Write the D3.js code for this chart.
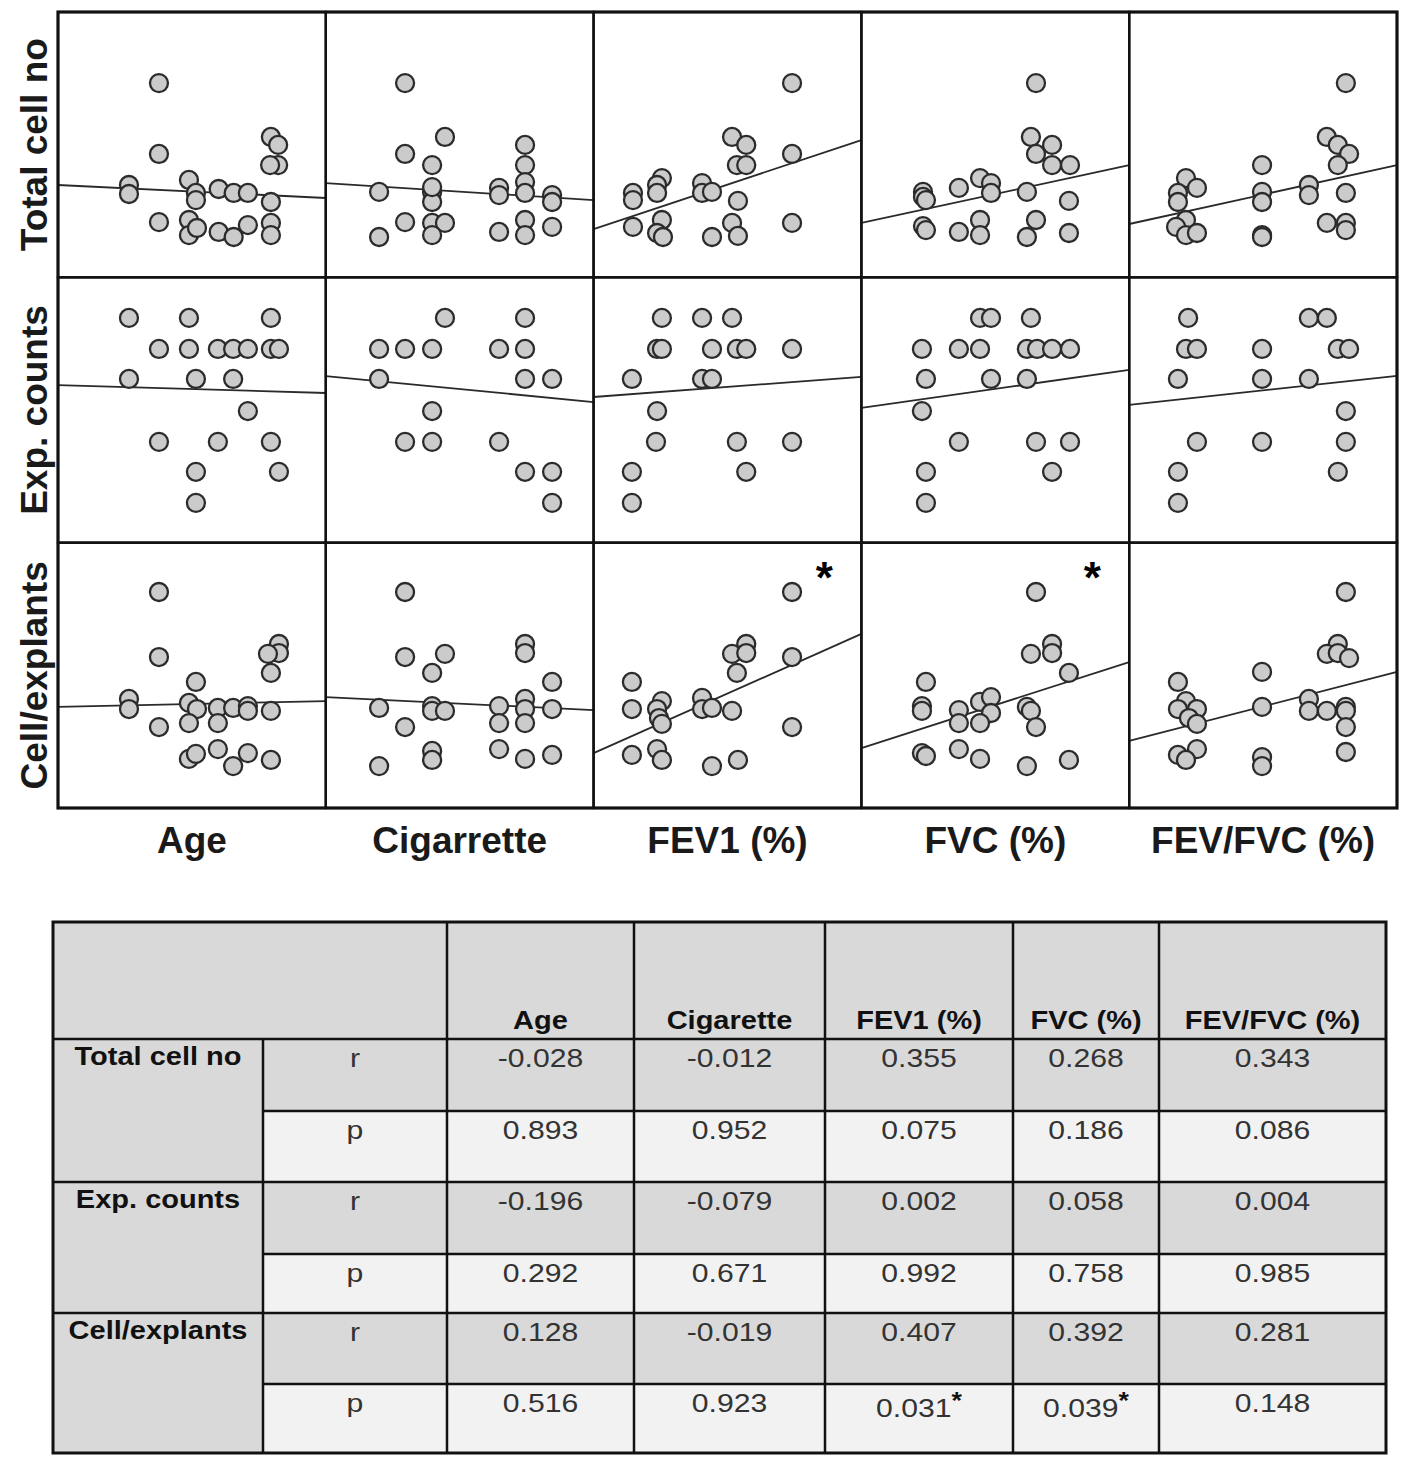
<!DOCTYPE html>
<html>
<head>
<meta charset="utf-8">
<script src="https://cdn.jsdelivr.net/npm/d3@7"></script>
<style>
  body { margin: 0; background: #fff; }
  svg { display: block; font-family: Arial, "Liberation Sans", Helvetica, sans-serif; }
</style>
</head>
<body>
<script>
// ------------------------------- Data --------------------------------------
// rows = outcome variables, columns = clinical variables
var rowVars = ["Total cell no", "Exp. counts", "Cell/explants"];
var colVars = ["Age", "Cigarrette", "FEV1 (%)", "FVC (%)", "FEV/FVC (%)"];
var tableCols = ["Age", "Cigarette", "FEV1 (%)", "FVC (%)", "FEV/FVC (%)"];

// points as [x, y], both on a relative 0-100 scale (no units shown on the figure)
var totalAge = [[37.7,73.2],[37.7,46.5],[26.5,34.8],[26.5,31.4],[37.7,20.8],[48.9,36.7],[51.5,31.8],[51.5,29.1],[48.9,21.6],[48.9,15.9],[51.9,18.6],[60.0,33.3],[60.0,17.1],[65.6,31.8],[65.6,15.2],[70.9,31.8],[70.9,19.7],[79.5,52.9],[82.2,49.9],[82.2,42.3],[79.2,42.3],[79.5,28.4],[79.5,20.5],[79.5,15.9]];
var totalCig = [[29.6,73.2],[29.6,46.5],[44.5,52.9],[39.7,42.3],[19.9,32.2],[39.7,32.2],[39.7,28.4],[39.7,34.0],[29.6,20.8],[39.7,20.5],[44.5,20.5],[19.9,15.2],[39.7,15.9],[64.7,33.7],[64.7,31.0],[64.7,17.1],[74.4,49.9],[74.4,42.3],[74.4,35.9],[74.4,31.8],[74.4,21.6],[74.4,15.9],[84.5,31.0],[84.5,28.4],[84.5,19.0]];
var totalFev1 = [[74.1,73.2],[51.7,52.9],[57.0,49.9],[53.5,42.3],[57.0,42.3],[74.1,46.5],[25.5,37.4],[23.7,34.8],[14.7,31.8],[14.7,29.1],[23.7,31.8],[40.5,35.5],[40.5,31.8],[44.2,32.2],[53.9,28.8],[25.5,21.6],[14.7,19.0],[23.7,16.7],[25.9,15.2],[51.7,20.5],[53.9,15.6],[44.2,15.2],[74.1,20.5]];
var totalFvc = [[65.2,73.2],[63.3,52.9],[71.2,49.9],[65.2,46.5],[71.2,42.3],[77.9,42.3],[23.0,32.2],[23.0,30.3],[24.1,29.1],[36.4,33.7],[44.3,37.4],[48.4,35.5],[48.4,31.8],[61.8,32.2],[77.5,28.8],[23.0,19.3],[24.1,17.8],[36.4,17.1],[44.3,21.6],[44.3,15.9],[65.2,21.6],[61.8,15.2],[77.5,16.7]];
var totalRatio = [[80.9,73.2],[73.8,52.9],[77.9,49.9],[82.1,46.5],[77.9,42.3],[49.6,42.3],[21.2,37.4],[25.3,33.7],[18.2,31.8],[18.2,28.4],[49.6,32.2],[49.6,28.4],[67.1,34.8],[67.1,31.0],[80.9,31.8],[21.2,21.6],[17.5,19.0],[21.2,15.9],[25.3,16.7],[49.6,15.9],[49.6,15.2],[73.8,20.5],[80.9,20.5],[80.9,17.8]];

var expAge = [[26.5,84.7],[48.9,84.7],[79.5,84.7],[37.7,73.0],[48.9,73.0],[59.7,73.0],[65.4,73.0],[70.9,73.0],[79.5,73.0],[82.5,73.0],[26.5,61.7],[51.5,61.7],[65.4,61.7],[70.9,49.6],[37.7,38.0],[59.7,38.0],[79.5,38.0],[51.5,26.7],[82.5,26.7],[51.5,15.0]];
var expCig = [[44.5,84.7],[74.4,84.7],[19.9,73.0],[29.6,73.0],[39.7,73.0],[64.7,73.0],[74.4,73.0],[74.4,61.7],[84.5,61.7],[19.9,61.7],[39.7,49.6],[29.6,38.0],[39.7,38.0],[64.7,38.0],[74.4,26.7],[84.5,26.7],[84.5,15.0]];
var expFev1 = [[25.5,84.7],[40.5,84.7],[51.7,84.7],[23.7,73.0],[25.5,73.0],[44.2,73.0],[53.5,73.0],[57.0,73.0],[74.1,73.0],[14.3,61.7],[40.5,61.7],[44.2,61.7],[23.7,49.6],[23.3,38.0],[53.5,38.0],[74.1,38.0],[14.3,26.7],[57.0,26.7],[14.3,15.0]];
var expFvc = [[44.3,84.7],[48.4,84.7],[63.3,84.7],[22.6,73.0],[36.4,73.0],[44.3,73.0],[61.8,73.0],[65.6,73.0],[71.2,73.0],[77.9,73.0],[24.1,61.7],[48.4,61.7],[61.8,61.7],[22.6,49.6],[36.4,38.0],[65.2,38.0],[77.9,38.0],[24.1,26.7],[71.2,26.7],[24.1,15.0]];
var expRatio = [[22.0,84.7],[67.1,84.7],[73.8,84.7],[21.2,73.0],[25.3,73.0],[49.6,73.0],[77.9,73.0],[82.1,73.0],[18.2,61.7],[49.6,61.7],[67.1,61.7],[80.9,49.6],[25.3,38.0],[49.6,38.0],[80.9,38.0],[18.2,26.7],[77.9,26.7],[18.2,15.0]];

var cellAge = [[37.7,81.4],[37.7,56.9],[51.5,47.5],[26.5,41.1],[26.5,37.3],[48.9,39.6],[51.9,37.3],[59.7,37.7],[65.4,37.7],[70.9,38.4],[70.9,36.6],[79.5,36.6],[37.7,30.5],[48.9,32.0],[59.7,32.0],[82.5,61.8],[82.5,58.4],[78.4,58.1],[79.5,50.9],[48.9,18.5],[51.5,20.4],[59.7,22.2],[65.4,15.8],[70.9,20.7],[79.5,18.1]];
var cellCig = [[29.6,81.4],[29.6,56.9],[44.5,58.1],[39.7,50.9],[19.9,37.7],[39.7,38.4],[39.7,36.6],[44.5,36.6],[29.6,30.5],[39.7,21.5],[39.7,18.1],[19.9,15.8],[74.4,61.8],[74.4,58.4],[84.5,47.5],[64.7,38.4],[64.7,32.0],[64.7,22.2],[74.4,41.1],[74.4,37.3],[74.4,32.0],[74.4,18.5],[84.5,37.3],[84.5,20.0]];
var cellFev1 = [[74.1,81.4],[74.1,56.9],[57.0,61.8],[51.7,58.1],[57.0,58.4],[53.5,50.9],[14.3,47.5],[14.3,37.3],[25.5,40.3],[23.7,37.3],[24.4,33.9],[25.5,31.7],[40.5,41.5],[40.5,37.3],[44.2,37.7],[51.7,36.6],[74.1,30.5],[14.3,20.0],[23.7,22.2],[25.5,18.1],[44.2,15.8],[53.9,18.1]];
var cellFvc = [[65.2,81.4],[71.2,61.8],[63.3,58.1],[71.2,58.4],[77.5,50.9],[24.1,47.5],[22.6,38.4],[22.6,36.6],[36.4,36.9],[36.4,32.0],[44.3,40.0],[48.4,41.8],[48.4,35.8],[44.3,32.0],[61.8,38.1],[63.3,36.6],[65.2,30.5],[22.6,20.7],[24.1,19.6],[36.4,22.2],[44.3,18.5],[61.8,15.8],[77.5,18.1]];
var cellRatio = [[80.9,81.4],[77.9,61.8],[73.8,58.1],[77.9,58.4],[82.1,56.5],[49.6,51.3],[18.2,47.5],[21.2,40.3],[18.2,37.3],[25.3,37.3],[22.3,33.9],[25.3,31.7],[49.6,38.1],[67.1,41.1],[67.1,36.6],[73.8,36.6],[80.9,38.1],[80.9,36.6],[80.9,30.5],[80.9,21.1],[18.2,20.0],[25.3,22.2],[21.2,18.1],[49.6,19.2],[49.6,15.8]];

// fitted lines: y at x = 0 and y at x = 100
var fitTotal = [[34.8,29.9],[35.5,29.1],[18.2,51.7],[20.5,42.3],[20.1,42.3]];
var fitExp   = [[59.4,56.4],[62.8,53.0],[54.9,62.5],[50.8,65.1],[51.9,62.9]];
var fitCell  = [[38.1,40.3],[41.8,36.9],[20.7,65.6],[22.6,55.0],[25.3,51.3]];

// correlation table
var rValues = [[-0.028,-0.012,0.355,0.268,0.343],
               [-0.196,-0.079,0.002,0.058,0.004],
               [0.128,-0.019,0.407,0.392,0.281]];
var pValues = [[0.893,0.952,0.075,0.186,0.086],
               [0.292,0.671,0.992,0.758,0.985],
               [0.516,0.923,0.031,0.039,0.148]];

var panels = [[totalAge, totalCig, totalFev1, totalFvc, totalRatio],
              [expAge, expCig, expFev1, expFvc, expRatio],
              [cellAge, cellCig, cellFev1, cellFvc, cellRatio]];
var fits = [fitTotal, fitExp, fitCell];

// ------------------------------- Drawing -----------------------------------
var width = 1417, height = 1466;

var svg = d3.select("body").append("svg")
  .attr("width", width)
  .attr("height", height);

// grid of panels
var colBand = d3.scaleBand().domain(colVars).range([58, 1397]);
var rowBand = d3.scaleBand().domain(rowVars).range([12, 808]);

rowVars.forEach(function(rv, ri) {
  colVars.forEach(function(cv, ci) {
    var x0 = colBand(cv), y0 = rowBand(rv);
    var x = d3.scaleLinear().domain([0, 100]).range([x0, x0 + colBand.bandwidth()]);
    var y = d3.scaleLinear().domain([0, 100]).range([y0 + rowBand.bandwidth(), y0]);
    var g = svg.append("g");

    // regression line
    var f = fits[ri][ci];
    g.append("line")
      .attr("x1", x(0)).attr("y1", y(f[0]))
      .attr("x2", x(100)).attr("y2", y(f[1]))
      .attr("stroke", "#2a2a2a")
      .attr("stroke-width", 1.8);

    // points
    g.selectAll("circle")
      .data(panels[ri][ci])
      .enter().append("circle")
      .attr("cx", function(d) { return x(d[0]); })
      .attr("cy", function(d) { return y(d[1]); })
      .attr("r", 9)
      .attr("fill", "#cbcbcb")
      .attr("stroke", "#2b2b2b")
      .attr("stroke-width", 2.3);

    // significance star
    if (pValues[ri][ci] < 0.05) {
      g.append("text")
        .attr("x", x(100) - 37)
        .attr("y", y(100) + 50)
        .attr("text-anchor", "middle")
        .attr("font-size", 44)
        .attr("font-weight", "bold")
        .text("*");
    }

    g.append("rect")
      .attr("x", x0).attr("y", y0)
      .attr("width", colBand.bandwidth()).attr("height", rowBand.bandwidth())
      .attr("fill", "none")
      .attr("stroke", "#111")
      .attr("stroke-width", 2.4);
  });
});

svg.append("rect")
  .attr("x", 58).attr("y", 12)
  .attr("width", 1397 - 58).attr("height", 808 - 12)
  .attr("fill", "none")
  .attr("stroke", "#111")
  .attr("stroke-width", 3);

// axis labels
svg.selectAll(".xlab")
  .data(colVars)
  .enter().append("text")
  .attr("x", function(d) { return colBand(d) + colBand.bandwidth() / 2; })
  .attr("y", 853)
  .attr("text-anchor", "middle")
  .attr("font-size", 37)
  .attr("font-weight", "bold")
  .attr("fill", "#1a1a1a")
  .text(function(d) { return d; });

svg.selectAll(".ylab")
  .data(rowVars)
  .enter().append("text")
  .attr("transform", function(d) {
    return "translate(47," + (rowBand(d) + rowBand.bandwidth() / 2) + ") rotate(-90)";
  })
  .attr("text-anchor", "middle")
  .attr("font-size", 37)
  .attr("font-weight", "bold")
  .attr("fill", "#1a1a1a")
  .text(function(d) { return d; });

// ------------------------------- Table -------------------------------------
var tx = [53, 263, 447, 634, 825, 1013, 1159, 1386];
var ty = [922, 1039, 1111, 1182, 1254, 1313, 1384, 1453];
var dark = "#d9d9d9", light = "#f2f2f2";
var stretch = 1.16;   // table lettering is a bit wider than plain Arial
var tbl = svg.append("g");

function cellText(cx, by, size, bold, color) {
  return tbl.append("g")
    .attr("transform", "translate(" + cx + "," + by + ") scale(" + stretch + ",1)")
    .append("text")
    .attr("text-anchor", "middle")
    .attr("font-size", size)
    .attr("font-weight", bold ? "bold" : "normal")
    .attr("fill", color);
}

tbl.append("rect")
  .attr("x", tx[0]).attr("y", ty[0])
  .attr("width", tx[7] - tx[0]).attr("height", ty[1] - ty[0])
  .attr("fill", dark);

tableCols.forEach(function(d, i) {
  cellText((tx[i + 2] + tx[i + 3]) / 2, ty[1] - 10, 25, true, "#111").text(d);
});

rowVars.forEach(function(rv, gi) {
  var top = ty[1 + 2 * gi], mid = ty[2 + 2 * gi], bot = ty[3 + 2 * gi];

  tbl.append("rect").attr("x", tx[0]).attr("y", top)
    .attr("width", tx[1] - tx[0]).attr("height", bot - top).attr("fill", dark);
  tbl.append("rect").attr("x", tx[1]).attr("y", top)
    .attr("width", tx[7] - tx[1]).attr("height", mid - top).attr("fill", dark);
  tbl.append("rect").attr("x", tx[1]).attr("y", mid)
    .attr("width", tx[7] - tx[1]).attr("height", bot - mid).attr("fill", light);

  cellText((tx[0] + tx[1]) / 2, top + 26, 25, true, "#111").text(rv);

  [["r", top, rValues[gi]], ["p", mid, pValues[gi]]].forEach(function(row) {
    cellText((tx[1] + tx[2]) / 2, row[1] + 28, 26, false, "#333").text(row[0]);

    row[2].forEach(function(v, ci) {
      var sig = row[0] === "p" && v < 0.05;
      var t = cellText((tx[ci + 2] + tx[ci + 3]) / 2, row[1] + (sig ? 33 : 28), 26, false, "#333");
      t.append("tspan").text(v.toFixed(3));
      if (sig) {
        t.append("tspan")
          .attr("dy", -8)
          .attr("font-size", 23)
          .attr("font-weight", "bold")
          .attr("fill", "#111")
          .text("*");
      }
    });
  });
});

// grid lines of the table
var tl = tbl.append("g").attr("stroke", "#111").attr("stroke-width", 2.5);
tl.append("line").attr("x1", tx[1]).attr("x2", tx[1]).attr("y1", ty[1]).attr("y2", ty[7]);
tx.slice(2, 7).forEach(function(xv) {
  tl.append("line").attr("x1", xv).attr("x2", xv).attr("y1", ty[0]).attr("y2", ty[7]);
});
[1, 3, 5].forEach(function(i) {
  tl.append("line").attr("x1", tx[0]).attr("x2", tx[7]).attr("y1", ty[i]).attr("y2", ty[i]);
});
[2, 4, 6].forEach(function(i) {
  tl.append("line").attr("x1", tx[1]).attr("x2", tx[7]).attr("y1", ty[i]).attr("y2", ty[i]);
});
tbl.append("rect")
  .attr("x", tx[0]).attr("y", ty[0])
  .attr("width", tx[7] - tx[0]).attr("height", ty[7] - ty[0])
  .attr("fill", "none").attr("stroke", "#111").attr("stroke-width", 3);
</script>
</body>
</html>
